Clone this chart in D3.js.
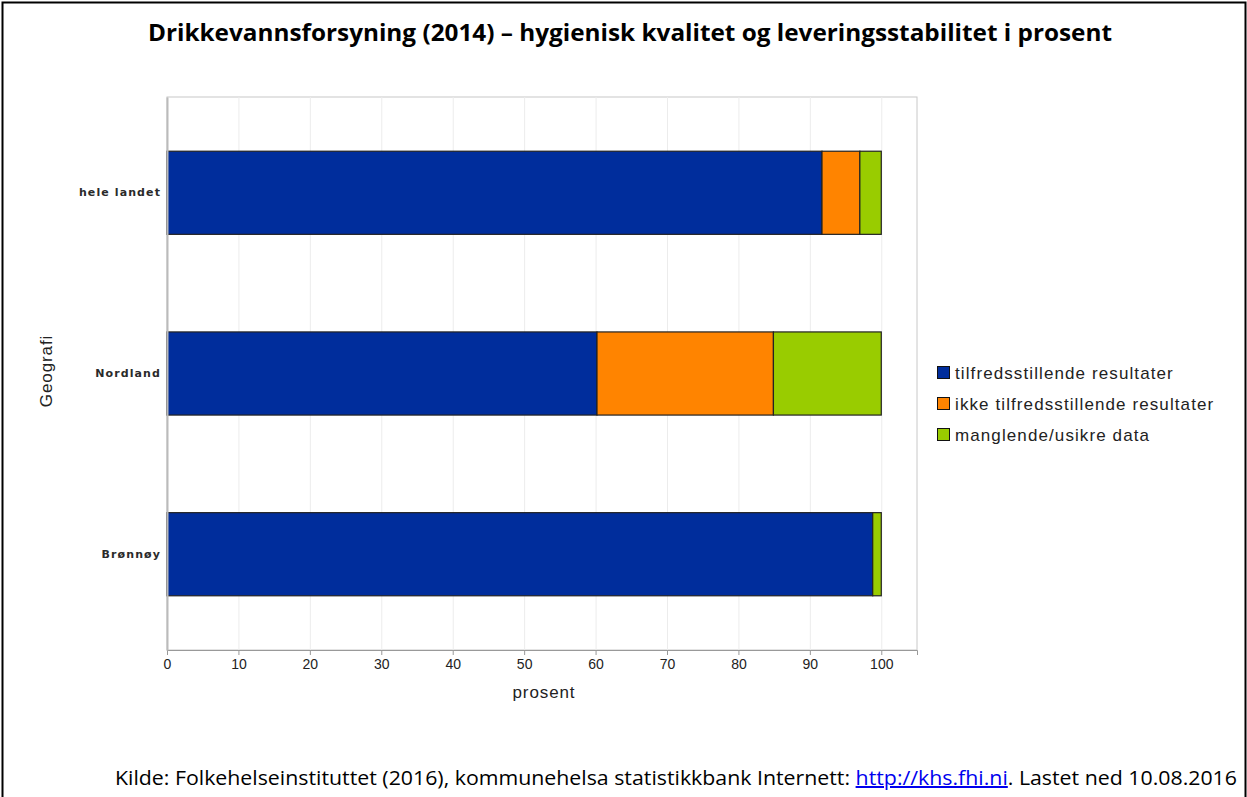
<!DOCTYPE html>
<html>
<head>
<meta charset="utf-8">
<script src="https://cdn.jsdelivr.net/npm/d3@7"></script>
<style>
  body { margin: 0; background: #fff; }
  svg { display: block; }
</style>
</head>
<body>
<svg id="chart" width="1247" height="797"></svg>
<script>
// data
var categories = ['hele landet', 'Nordland', 'Brønnøy'];
var seriesNames = ['tilfredsstillende resultater', 'ikke tilfredsstillende resultater', 'manglende/usikre data'];
var seriesColors = ['#002d9c', '#ff8400', '#99cc00'];
var tilfreds = [91.7, 60.2, 98.8];
var ikkeTilfreds = [5.3, 24.7, 0];
var manglende = [3.0, 15.1, 1.2];
var xTicks = [0, 10, 20, 30, 40, 50, 60, 70, 80, 90, 100];

var svg = d3.select('#chart');
var W = 1247, H = 797;

// outer frame
svg.append('rect')
    .attr('x', 2.5).attr('y', 2.5)
    .attr('width', W - 4).attr('height', H + 10)
    .attr('fill', 'none').attr('stroke', '#000').attr('stroke-width', 2);

svg.append('text')
    .attr('x', 630).attr('y', 41)
    .attr('text-anchor', 'middle')
    .attr('font-family', 'Liberation Sans Narrow, Open Sans, sans-serif')
    .attr('font-weight', 'bold')
    .attr('font-size', 24)
    .attr('textLength', 964)
    .attr('lengthAdjust', 'spacingAndGlyphs')
    .text('Drikkevannsforsyning (2014) – hygienisk kvalitet og leveringsstabilitet i prosent');

var plot = { left: 167, top: 97, right: 917, bottom: 650 };

var x = d3.scaleLinear().domain([0, 105]).range([plot.left, plot.right]);
var y = d3.scaleBand().domain(categories).range([plot.top, plot.bottom]).paddingInner(0.54).paddingOuter(0.3);

var rows = categories.map(function (c, i) {
    return { geo: c, s0: tilfreds[i], s1: ikkeTilfreds[i], s2: manglende[i] };
});
var stack = d3.stack().keys(['s0', 's1', 's2'])(rows);

// plot background and frame
svg.append('rect')
    .attr('x', plot.left).attr('y', plot.top)
    .attr('width', plot.right - plot.left).attr('height', plot.bottom - plot.top)
    .attr('fill', '#fff').attr('stroke', '#c8c8c8');

// grid
svg.append('g').selectAll('line').data(xTicks.slice(1)).enter().append('line')
    .attr('x1', function (d) { return x(d) + 0.5; })
    .attr('x2', function (d) { return x(d) + 0.5; })
    .attr('y1', plot.top).attr('y2', plot.bottom)
    .attr('stroke', '#ececec');

// bars
svg.append('g').selectAll('g').data(stack).enter().append('g')
    .attr('fill', function (d, i) { return seriesColors[i]; })
    .selectAll('rect').data(function (d) { return d; }).enter()
    .filter(function (d) { return d[1] - d[0] > 0; })
    .append('rect')
    .attr('x', function (d) { return x(d[0]); })
    .attr('width', function (d) { return x(d[1]) - x(d[0]); })
    .attr('y', function (d) { return y(d.data.geo); })
    .attr('height', y.bandwidth())
    .attr('stroke', '#222').attr('stroke-width', 1.2);

// x axis
var xAxis = d3.axisBottom(x).tickValues(xTicks).tickSize(5).tickPadding(4);
var gx = svg.append('g').attr('transform', 'translate(0,' + plot.bottom + ')').call(xAxis);
gx.select('.domain').attr('stroke', '#999');
gx.selectAll('.tick line').attr('stroke', '#999');
gx.selectAll('.tick text')
    .attr('font-family', 'Liberation Sans, Arial, sans-serif')
    .attr('font-size', 14).attr('fill', '#222');

// y axis
var yAxis = d3.axisLeft(y).tickSize(0).tickPadding(6);
var gy = svg.append('g').attr('transform', 'translate(' + plot.left + ',0)').call(yAxis);
gy.select('.domain').attr('stroke', '#bbb').attr('stroke-width', 2);
gy.selectAll('.tick text')
    .attr('font-family', 'DejaVu Sans, sans-serif')
    .attr('font-weight', 'bold')
    .attr('font-size', 11).attr('letter-spacing', 1.1)
    .attr('fill', '#2a2a2a');

svg.append('text')
    .attr('x', 544).attr('y', 698)
    .attr('text-anchor', 'middle')
    .attr('font-family', 'Liberation Sans, Arial, sans-serif')
    .attr('font-size', 17).attr('letter-spacing', 0.9).attr('fill', '#222')
    .text('prosent');

svg.append('text')
    .attr('transform', 'translate(52,371) rotate(-90)')
    .attr('text-anchor', 'middle')
    .attr('font-family', 'Liberation Sans, Arial, sans-serif')
    .attr('font-size', 17).attr('letter-spacing', 0.9).attr('fill', '#222')
    .text('Geografi');

// legend
var legend = svg.append('g').attr('transform', 'translate(937,366)');
var item = legend.selectAll('g').data(seriesNames).enter().append('g')
    .attr('transform', function (d, i) { return 'translate(0,' + (i * 31) + ')'; });
item.append('rect')
    .attr('x', 0.5).attr('y', 0.5).attr('width', 12).attr('height', 12)
    .attr('fill', function (d, i) { return seriesColors[i]; })
    .attr('stroke', '#111');
item.append('text')
    .attr('x', 18).attr('y', 13)
    .attr('font-family', 'Liberation Sans, Arial, sans-serif')
    .attr('font-size', 17).attr('letter-spacing', 1.1).attr('fill', '#222')
    .text(function (d) { return d; });

// source line
var src = svg.append('text')
    .attr('x', 1237).attr('y', 785)
    .attr('text-anchor', 'end')
    .attr('font-family', 'Liberation Sans Narrow, Open Sans, sans-serif')
    .attr('font-size', 20)
    .attr('textLength', 1122)
    .attr('lengthAdjust', 'spacingAndGlyphs');
src.append('tspan').text('Kilde: Folkehelseinstituttet (2016), kommunehelsa statistikkbank Internett: ');
src.append('tspan').attr('fill', '#0000ee').attr('text-decoration', 'underline').text('http://khs.fhi.ni');
src.append('tspan').text('. Lastet ned 10.08.2016');
</script>
</body>
</html>
